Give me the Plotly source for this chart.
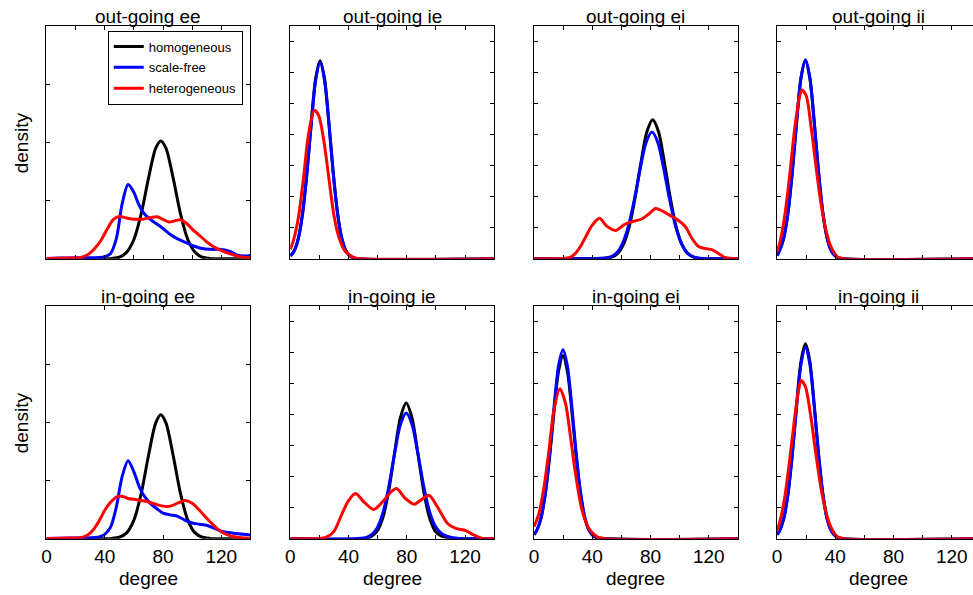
import plotly.graph_objects as go

W, H = 973, 595
FONT = "Liberation Sans, Arial, Helvetica, sans-serif"

series_names = ["homogeneous", "scale-free", "heterogeneous"]
series_colors = ["#000000", "#0000ff", "#ff0000"]
panel_titles = ["out-going ee", "out-going ie", "out-going ei", "out-going ii",
                "in-going ee", "in-going ie", "in-going ei", "in-going ii"]
tick_labels = ["0", "40", "80", "120"]
x_label = "degree"
y_label = "density"

# ---------- out-going ee ----------
oee_hom_x = [0, 40, 45, 50, 55, 60, 65, 70, 75, 78.5, 82, 87, 92, 97, 102, 107, 112, 117, 140]
oee_hom_y = [0, 0, 0.0001, 0.0005, 0.0022, 0.0066, 0.0154, 0.0276, 0.0380, 0.0405, 0.0380, 0.0276, 0.0154, 0.0066, 0.0022, 0.0005, 0.0001, 0, 0]
oee_sf_x = [0, 10, 20, 30, 36, 40, 44, 48, 52, 56, 60, 63, 66, 70, 75, 80, 85, 90, 96, 102, 108, 114, 120, 126, 131, 136, 140]
oee_sf_y = [0.0001, 0.0002, 0.0003, 0.0003, 0.0004, 0.0007, 0.0018, 0.0070, 0.0190, 0.0255, 0.0228, 0.0190, 0.0162, 0.0140, 0.0122, 0.0104, 0.0083, 0.0068, 0.0055, 0.0042, 0.0034, 0.0032, 0.0032, 0.0025, 0.0012, 0.0009, 0.0011]
oee_het_x = [0, 15, 22, 26, 30, 34, 38, 42, 46, 50, 55, 60, 66, 72, 76, 80, 84, 88, 92, 96, 100, 105, 110, 115, 120, 126, 132, 140]
oee_het_y = [0.0001, 0.0002, 0.0003, 0.0008, 0.0020, 0.0040, 0.0068, 0.0105, 0.0135, 0.0145, 0.0140, 0.0136, 0.0136, 0.0142, 0.0144, 0.0135, 0.0126, 0.0130, 0.0134, 0.0122, 0.0102, 0.0080, 0.0058, 0.0040, 0.0028, 0.0017, 0.0008, 0.0003]

# ---------- out-going ie ----------
oie_hom_x = [0, 2.5, 5.5, 8.5, 11.5, 14.5, 17.5, 20.5, 23.5, 26.5, 29.5, 32.5, 35.5, 38.5, 41.5, 45, 140]
oie_hom_y = [0.0009, 0.0023, 0.0064, 0.0147, 0.0279, 0.0442, 0.0582, 0.0638, 0.0582, 0.0442, 0.0279, 0.0147, 0.0064, 0.0023, 0.0007, 0.0001, 0]
oie_sf_x = [0, 2.5, 5.5, 8.5, 11.5, 14.5, 17.5, 20.5, 23.5, 26.5, 29.5, 32.5, 35.5, 38.5, 41.5, 45, 140]
oie_sf_y = [0.0009, 0.0023, 0.0064, 0.0145, 0.0276, 0.0438, 0.0576, 0.0632, 0.0576, 0.0438, 0.0276, 0.0145, 0.0064, 0.0023, 0.0007, 0.0001, 0]
oie_het_x = [0, 2.3, 5.7, 9.2, 12.6, 16.5, 19.5, 23, 26.4, 29.8, 33.3, 37.9, 43.6, 48, 140]
oie_het_y = [0.0030, 0.0060, 0.0135, 0.0264, 0.0403, 0.0478, 0.0462, 0.0382, 0.0264, 0.0146, 0.0071, 0.0023, 0.0004, 0, 0]

# ---------- out-going ei ----------
oei_hom_x = [0, 50, 53.5, 57.5, 61.5, 65.5, 69.5, 73.5, 77.5, 81.5, 85.5, 89.5, 93.5, 97.5, 101.5, 105.5, 109.5, 113.5, 140]
oei_hom_y = [0, 0.0002, 0.0005, 0.0017, 0.0047, 0.0105, 0.0198, 0.0312, 0.0409, 0.0448, 0.0409, 0.0312, 0.0198, 0.0105, 0.0047, 0.0017, 0.0005, 0.0001, 0]
oei_sf_x = [0, 49, 53, 57, 61, 65, 69, 73, 77, 81, 85, 89, 93, 97, 101, 105, 109, 113, 140]
oei_sf_y = [0, 0.0002, 0.0007, 0.0020, 0.0051, 0.0108, 0.0193, 0.0292, 0.0375, 0.0408, 0.0375, 0.0292, 0.0193, 0.0108, 0.0051, 0.0020, 0.0007, 0.0002, 0]
oei_het_x = [0, 20, 24, 28, 32, 36, 40, 45, 50, 56, 62, 68, 74, 79, 83.5, 88, 92.5, 99, 104, 108.5, 113, 117.5, 122, 127, 131, 136, 140]
oei_het_y = [0, 0.0001, 0.0003, 0.0015, 0.0040, 0.0075, 0.0108, 0.0130, 0.0105, 0.0091, 0.0110, 0.0120, 0.0128, 0.0145, 0.0162, 0.0154, 0.0142, 0.0124, 0.0103, 0.0065, 0.0039, 0.0033, 0.0029, 0.0016, 0.0004, 0.0001, 0]

# ---------- out-going ii ----------
oii_hom_x = [0, 1.5, 4.5, 7.5, 10.5, 13.5, 16.5, 19.5, 22.5, 25.5, 28.5, 31.5, 34.5, 37.5, 40.5, 44, 140]
oii_hom_y = [0.0010, 0.0023, 0.0064, 0.0147, 0.0279, 0.0443, 0.0583, 0.0639, 0.0583, 0.0443, 0.0279, 0.0147, 0.0064, 0.0023, 0.0007, 0.0001, 0]
oii_sf_x = [0, 1.5, 4.5, 7.5, 10.5, 13.5, 16.5, 19.5, 22.5, 25.5, 28.5, 31.5, 34.5, 37.5, 40.5, 44, 140]
oii_sf_y = [0.0010, 0.0024, 0.0065, 0.0147, 0.0280, 0.0444, 0.0585, 0.0641, 0.0585, 0.0444, 0.0280, 0.0147, 0.0065, 0.0024, 0.0007, 0.0001, 0]
oii_het_x = [0, 1.8, 5.2, 8.6, 12, 15, 17, 20, 23.4, 26.8, 30.2, 33.6, 37, 41.6, 46, 140]
oii_het_y = [0.0022, 0.0049, 0.0135, 0.0264, 0.0414, 0.0510, 0.0544, 0.0526, 0.0424, 0.0296, 0.0178, 0.0092, 0.0039, 0.0006, 0, 0]

# ---------- in-going ee ----------
iee_hom_x = [0, 40, 45, 50, 55, 60, 65, 70, 75, 78.5, 82, 87, 92, 97, 102, 107, 112, 117, 140]
iee_hom_y = [0, 0, 0.0001, 0.0005, 0.0020, 0.0064, 0.0155, 0.0285, 0.0398, 0.0426, 0.0398, 0.0285, 0.0155, 0.0064, 0.0020, 0.0005, 0.0001, 0, 0]
iee_sf_x = [0, 20, 30, 36, 40, 44, 48, 52, 56, 60, 64, 68, 72, 76, 80, 85, 90, 95, 100, 105, 110, 115, 120, 125, 130, 135, 140]
iee_sf_y = [0.0001, 0.0002, 0.0003, 0.0006, 0.0015, 0.0040, 0.0110, 0.0215, 0.0268, 0.0230, 0.0175, 0.0140, 0.0118, 0.0102, 0.0088, 0.0082, 0.0077, 0.0064, 0.0054, 0.0050, 0.0046, 0.0036, 0.0026, 0.0021, 0.0018, 0.0015, 0.0013]
iee_het_x = [0, 15, 24, 28, 32, 36, 40, 44, 48, 52, 56, 62, 68, 74, 80, 85, 90, 95, 100, 105, 110, 115, 120, 125, 130, 140]
iee_het_y = [0.0001, 0.0002, 0.0004, 0.0012, 0.0030, 0.0060, 0.0098, 0.0125, 0.0143, 0.0146, 0.0138, 0.0134, 0.0129, 0.0120, 0.0112, 0.0112, 0.0122, 0.0131, 0.0122, 0.0098, 0.0070, 0.0045, 0.0024, 0.0012, 0.0006, 0.0001]

# ---------- in-going ie ----------
iie_hom_x = [0, 51.6, 55.6, 59.6, 63.6, 67.6, 71.6, 75.6, 79.6, 83.6, 87.6, 91.6, 95.6, 99.6, 103.6, 107.6, 112, 140]
iie_hom_y = [0, 0.0001, 0.0007, 0.0024, 0.0068, 0.0154, 0.0275, 0.0389, 0.0437, 0.0389, 0.0275, 0.0154, 0.0068, 0.0024, 0.0009, 0.0004, 0.0001, 0]
iie_sf_x = [0, 51.6, 55.6, 59.6, 63.6, 67.6, 71.6, 75.6, 79.6, 83.6, 87.6, 91.6, 95.6, 99.6, 103.6, 107.6, 111.6, 116, 140]
iie_sf_y = [0, 0.0003, 0.0012, 0.0034, 0.0083, 0.0166, 0.0273, 0.0367, 0.0405, 0.0368, 0.0276, 0.0170, 0.0088, 0.0040, 0.0018, 0.0008, 0.0003, 0.0001, 0]
iie_het_x = [0, 20, 24, 29.8, 35.6, 40.2, 44.8, 50.5, 57.4, 64.3, 69, 73, 79, 84.9, 89.5, 95.2, 101, 108, 113.6, 120.5, 126, 132, 140]
iie_het_y = [0, 0.0001, 0.0003, 0.0022, 0.0081, 0.0124, 0.0146, 0.0119, 0.0094, 0.0124, 0.0150, 0.0162, 0.0130, 0.0111, 0.0124, 0.0140, 0.0103, 0.0049, 0.0033, 0.0026, 0.0012, 0.0001, 0]

# ---------- in-going ei ----------
iei_hom_x = [0, 1.9, 4.9, 7.9, 10.9, 13.9, 16.9, 19.9, 22.9, 25.9, 28.9, 31.9, 34.9, 37.9, 40.9, 44, 140]
iei_hom_y = [0.0013, 0.0026, 0.0067, 0.0147, 0.0270, 0.0417, 0.0541, 0.0590, 0.0541, 0.0417, 0.0270, 0.0147, 0.0067, 0.0026, 0.0008, 0.0002, 0]
iei_sf_x = [0, 1.9, 4.9, 7.9, 10.9, 13.9, 16.9, 19.9, 22.9, 25.9, 28.9, 31.9, 34.9, 37.9, 40.9, 44, 140]
iei_sf_y = [0.0013, 0.0027, 0.0069, 0.0152, 0.0279, 0.0431, 0.0558, 0.0609, 0.0558, 0.0431, 0.0279, 0.0152, 0.0069, 0.0027, 0.0009, 0.0002, 0]
iei_het_x = [0, 3.4, 6.9, 10.3, 13.7, 17.8, 21.7, 25.1, 28.5, 33, 37.7, 43.4, 49, 140]
iei_het_y = [0.0039, 0.0081, 0.0167, 0.0285, 0.0414, 0.0483, 0.0435, 0.0328, 0.0210, 0.0092, 0.0033, 0.0006, 0, 0]

# ---------- in-going ii ----------
iii_hom_x = [0, 1.5, 4.5, 7.5, 10.5, 13.5, 16.5, 19.5, 22.5, 25.5, 28.5, 31.5, 34.5, 37.5, 40.5, 44, 140]
iii_hom_y = [0.0013, 0.0023, 0.0063, 0.0144, 0.0274, 0.0435, 0.0573, 0.0628, 0.0573, 0.0435, 0.0274, 0.0144, 0.0063, 0.0023, 0.0007, 0.0001, 0]
iii_sf_x = [0, 1.5, 4.5, 7.5, 10.5, 13.5, 16.5, 19.5, 22.5, 25.5, 28.5, 31.5, 34.5, 37.5, 40.5, 44, 140]
iii_sf_y = [0.0013, 0.0023, 0.0062, 0.0142, 0.0270, 0.0428, 0.0563, 0.0617, 0.0563, 0.0428, 0.0270, 0.0142, 0.0062, 0.0023, 0.0007, 0.0001, 0]
iii_het_x = [0, 1.8, 5.2, 8.6, 12, 14.5, 16.6, 19.5, 23, 26.5, 30, 33.5, 37, 41.5, 46, 140]
iii_het_y = [0.0026, 0.0052, 0.0130, 0.0250, 0.0385, 0.0470, 0.0510, 0.0490, 0.0400, 0.0280, 0.0168, 0.0088, 0.0037, 0.0006, 0, 0]

panels = [
    [(oee_hom_x, oee_hom_y), (oee_sf_x, oee_sf_y), (oee_het_x, oee_het_y)],
    [(oie_hom_x, oie_hom_y), (oie_sf_x, oie_sf_y), (oie_het_x, oie_het_y)],
    [(oei_hom_x, oei_hom_y), (oei_sf_x, oei_sf_y), (oei_het_x, oei_het_y)],
    [(oii_hom_x, oii_hom_y), (oii_sf_x, oii_sf_y), (oii_het_x, oii_het_y)],
    [(iee_hom_x, iee_hom_y), (iee_sf_x, iee_sf_y), (iee_het_x, iee_het_y)],
    [(iie_hom_x, iie_hom_y), (iie_sf_x, iie_sf_y), (iie_het_x, iie_het_y)],
    [(iei_hom_x, iei_hom_y), (iei_sf_x, iei_sf_y), (iei_het_x, iei_het_y)],
    [(iii_hom_x, iii_hom_y), (iii_sf_x, iii_sf_y), (iii_het_x, iii_het_y)],
]

# ---------- layout geometry (pixels) ----------
lefts = [41.7, 286.7, 531.7, 776.0]
pw = 205.0
tops = [26.0, 306.0]
ph = 232.7
XMAX = 140.0

fig = go.Figure()
layout = dict(
    width=W, height=H,
    margin=dict(l=0, r=0, t=0, b=0),
    paper_bgcolor="white", plot_bgcolor="white",
    font=dict(family=FONT, size=19, color="black"),
    showlegend=True,
    legend=dict(
        x=103.3 / W, y=1 - 30.5 / H, xanchor="left", yanchor="top",
        bgcolor="white", bordercolor="black", borderwidth=1,
        font=dict(family=FONT, size=13, color="black"),
        traceorder="grouped", tracegroupgap=1, itemwidth=30,
    ),
)
annotations = []

for i, series in enumerate(panels):
    r, c = divmod(i, 4)
    k = i + 1
    xa = "x" if k == 1 else f"x{k}"
    ya = "y" if k == 1 else f"y{k}"
    for s, (xs, ys) in enumerate(series):
        fig.add_trace(go.Scatter(
            x=xs, y=ys, mode="lines",
            line=dict(color=series_colors[s], width=3, shape="spline", smoothing=0.8),
            name=series_names[s], legendgroup=series_names[s],
            showlegend=(i == 0), xaxis=xa, yaxis=ya, hoverinfo="skip",
        ))
    left = lefts[c]
    right = min(left + pw, W)
    xr = XMAX * (right - left) / pw
    top = tops[r]
    if c == 0 and r == 1:
        tv = [0, 40, 80, 120]
        tt = tick_labels
    else:
        tv = [0, 20, 40, 60, 80, 100, 120, 140]
        tt = ["0", "", "40", "", "80", "", "120", ""]
    xkey = "xaxis" if k == 1 else f"xaxis{k}"
    ykey = "yaxis" if k == 1 else f"yaxis{k}"
    layout[xkey] = dict(
        domain=[left / W, right / W], range=[0, xr], anchor=ya,
        showgrid=False, zeroline=False, showline=True, linecolor="black", linewidth=1,
        mirror="ticks", ticks="inside", ticklen=4, tickcolor="black", tickwidth=1,
        tickmode="array", tickvals=tv, ticktext=tt,
        showticklabels=(r == 1), tickfont=dict(family=FONT, size=19, color="black"),
    )
    if c == 0:
        yr, dt = [0, 0.08], 0.02
    else:
        yr, dt = [0, 0.075], 0.01
    layout[ykey] = dict(
        domain=[1 - (top + ph) / H, 1 - top / H], range=yr, anchor=xa,
        showgrid=False, zeroline=False, showline=True, linecolor="black", linewidth=1,
        mirror=("ticks" if c < 3 else False), ticks="inside", ticklen=4,
        tickcolor="black", tickwidth=1, dtick=dt, tick0=0, showticklabels=False,
    )
    cx = (left + left + pw) / 2 / W
    annotations.append(dict(
        text=panel_titles[i], x=cx, y=1 - (top - 10) / H, xref="paper", yref="paper",
        xanchor="center", yanchor="middle", showarrow=False,
        font=dict(family=FONT, size=19, color="black"),
    ))
    if r == 1:
        annotations.append(dict(
            text=x_label, x=cx, y=1 - 578 / H, xref="paper", yref="paper",
            xanchor="center", yanchor="middle", showarrow=False,
            font=dict(family=FONT, size=19, color="black"),
        ))
    if c == 0:
        annotations.append(dict(
            text=y_label, x=16 / W, y=1 - (top + ph / 2) / H, xref="paper", yref="paper",
            xanchor="center", yanchor="middle", showarrow=False, textangle=-90,
            font=dict(family=FONT, size=19, color="black"),
        ))

layout["annotations"] = annotations
fig.update_layout(**layout)
fig.write_html(
    "out.html",
    config={"displayModeBar": False},
    post_script="document.body.style.margin='0';document.body.style.overflow='hidden';",
)
